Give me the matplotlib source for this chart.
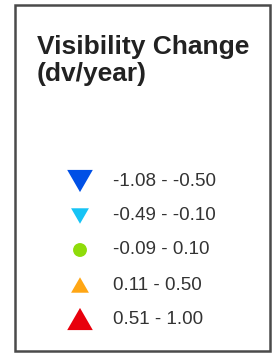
import matplotlib
matplotlib.use("Agg")
import matplotlib.pyplot as plt
from matplotlib.patches import Rectangle

plt.rcParams["font.family"] = ["Liberation Sans", "DejaVu Sans"]

title_lines = ["Visibility Change", "(dv/year)"]
labels = ["-1.08 - -0.50", "-0.49 - -0.10", "-0.09 - 0.10", "0.11 - 0.50", "0.51 - 1.00"]
colors = ["#0050e6", "#16c3f5", "#8fdc0a", "#ffa614", "#e8000c"]
shapes = ["down", "down", "circle", "up", "up"]
sizes = [340, 165, 100, 165, 340]

# equilateral triangle markers
TRI_DOWN = [(-1, 0.866), (1, 0.866), (0, -0.866)]
TRI_UP = [(-1, -0.866), (1, -0.866), (0, 0.866)]
MARK = {"down": TRI_DOWN, "up": TRI_UP, "circle": "o"}

W, H = 279, 354
fig = plt.figure(figsize=(W / 100, H / 100), dpi=100)
ax = fig.add_axes([0, 0, 1, 1])
ax.set_xlim(0, W)
ax.set_ylim(H, 0)
ax.axis("off")

ax.add_patch(Rectangle((15, 5), 255, 346, fill=False, edgecolor="#4a4a4a", lw=1.8))

for i, line in enumerate(title_lines):
    ax.text(37, 54 + 27 * i, line, fontsize=19, fontweight="bold", color="#222222",
            ha="left", va="baseline")

ys = [181, 216, 250, 285, 319]
for y, lab, c, m, s in zip(ys, labels, colors, shapes, sizes):
    ax.scatter([80], [y], marker=MARK[m], s=s, color=c, edgecolor="none")
    ax.text(113, y, lab, fontsize=13.5, color="#333333", ha="left", va="center")

fig.savefig("out.png", dpi=100)
